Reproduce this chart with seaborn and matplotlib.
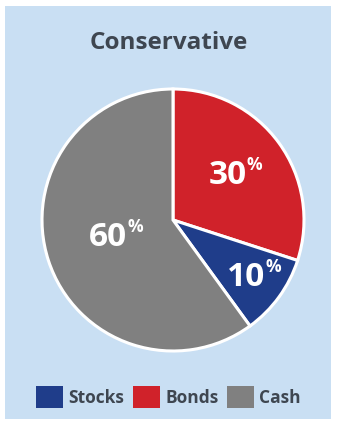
import matplotlib
matplotlib.use("Agg")
import matplotlib.pyplot as plt
from matplotlib.patches import Rectangle
import seaborn as sns
import numpy as np

# Data
categories = ["Bonds", "Stocks", "Cash"]
values = [30, 10, 60]
legend_order = ["Stocks", "Bonds", "Cash"]
title_text = "Conservative"

colors = {"Stocks": "#1f3d8a", "Bonds": "#d0222a", "Cash": "#808080"}
BG = "#c9dff3"
TXT = "#3e4650"

sns.set_theme(style="white")
plt.rcParams["font.family"] = ["Open Sans", "DejaVu Sans"]

W, H = 337, 424
fig = plt.figure(figsize=(W / 100, H / 100), dpi=100, facecolor="white")
fig.patches.append(Rectangle((5 / W, 5 / H), 326 / W, 413 / H, transform=fig.transFigure,
                             facecolor=BG, edgecolor="none", zorder=-10))

cx, cy, r = 173, 220, 131
ax = fig.add_axes([(cx - r) / W, 1 - (cy + r) / H, 2 * r / W, 2 * r / H])
ax.set_zorder(5)
ax.patch.set_visible(False)

wedges, _ = ax.pie(values, colors=[colors[c] for c in categories], startangle=90,
                   counterclock=False,
                   wedgeprops=dict(edgecolor="white", linewidth=2.2))
ax.set_xlim(-1, 1)
ax.set_ylim(-1, 1)
ax.set_aspect("equal")
ax.axis("off")

label_r = {"Bonds": 0.535, "Stocks": 0.707, "Cash": 0.513}
label_dang = {"Bonds": 3, "Stocks": -2, "Cash": -3.3}
for w, cat, v in zip(wedges, categories, values):
    ang = np.deg2rad((w.theta1 + w.theta2) / 2 + label_dang[cat])
    x, y = label_r[cat] * np.cos(ang), label_r[cat] * np.sin(ang)
    ax.text(x, y, f"{v}", color="white", fontsize=24, fontweight="bold",
            ha="center", va="center")
    ax.annotate("%", xy=(x, y), xytext=(14, 14), textcoords="offset points",
                color="white", fontsize=12.5, fontweight="bold", ha="left", va="top")

fig.text(0.5, 1 - 43 / H, title_text, ha="center", va="center", fontsize=17.5,
         fontweight="bold", color=TXT)

handles = [Rectangle((0, 0), 1, 1, facecolor=colors[c], edgecolor="none") for c in legend_order]
leg = fig.legend(handles, legend_order, loc="center", bbox_to_anchor=(0.5, 1 - 397 / H),
                 ncol=3, frameon=False, fontsize=12.5, handlelength=1.55, handleheight=1.6,
                 handletextpad=0.3, columnspacing=0.5, borderaxespad=0)
for t in leg.get_texts():
    t.set_color(TXT)
    t.set_fontweight("bold")

fig.savefig("out.png", dpi=100, facecolor="white")
